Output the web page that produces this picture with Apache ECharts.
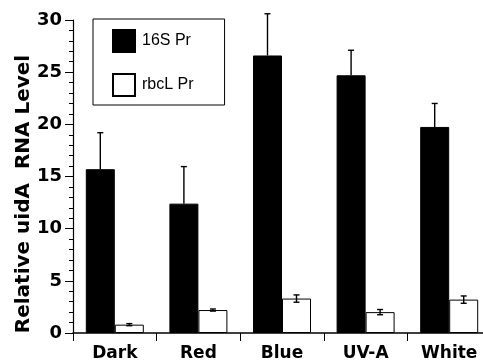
<!DOCTYPE html>
<html>
<head>
<meta charset="utf-8">
<script src="https://cdn.jsdelivr.net/npm/echarts@6/dist/echarts.min.js"></script>
<style>html,body{margin:0;padding:0;background:#fff;}#c{width:483px;height:361px;}</style>
</head>
<body>
<div id="c"></div>
<script>
var categories = ['Dark', 'Red', 'Blue', 'UV-A', 'White'];
var s16Values = [15.7, 12.4, 26.6, 24.7, 19.75];
var s16Err = [3.5, 3.55, 4.0, 2.4, 2.25];
var rbcLValues = [0.8, 2.2, 3.3, 2.0, 3.2];
var rbcLErr = [0.1, 0.1, 0.35, 0.25, 0.35];
var yTicks = [0, 5, 10, 15, 20, 25, 30];

var BW = 29;
var chart = echarts.init(document.getElementById('c'));

function errSeries(name, vals, errs, side, both) {
  return {
    type: 'custom',
    name: name + '_err',
    z: 5,
    silent: true,
    data: vals.map(function (v, i) { return [i, v, errs[i]]; }),
    renderItem: function (params, api) {
      var i = api.value(0), v = api.value(1), e = api.value(2);
      var top = api.coord([i, v + e]);
      var bot = api.coord([i, both ? v - e : v]);
      var x = top[0] + side * BW / 2;
      var hw = 3;
      var children = [
        { type: 'line', shape: { x1: x, y1: top[1], x2: x, y2: bot[1] }, style: { stroke: '#000', lineWidth: 1.4 } },
        { type: 'line', shape: { x1: x - hw, y1: top[1], x2: x + hw, y2: top[1] }, style: { stroke: '#000', lineWidth: 1.4 } }
      ];
      if (both) {
        children.push({ type: 'line', shape: { x1: x - hw, y1: bot[1], x2: x + hw, y2: bot[1] }, style: { stroke: '#000', lineWidth: 1.4 } });
      }
      return { type: 'group', children: children };
    }
  };
}

chart.setOption({
  animation: false,
  grid: { left: 73, right: -8, top: 20, bottom: 28, containLabel: false, outerBoundsMode: 'none' },
  legend: {
    orient: 'vertical',
    left: 93, top: 19,
    data: ['16S Pr', 'rbcL Pr'],
    icon: 'rect',
    itemWidth: 22, itemHeight: 22, itemGap: 20,
    padding: [10, 31, 8, 19],
    borderColor: '#000', borderWidth: 1,
    textStyle: { fontFamily: 'Liberation Sans', fontSize: 16, color: '#000', padding: [0, 0, 0, 2] }
  },
  xAxis: {
    type: 'category',
    data: categories,
    axisLine: { lineStyle: { color: '#000', width: 1.5 } },
    axisTick: { show: true, length: 8, lineStyle: { color: '#000', width: 1 } },
    axisLabel: { fontFamily: 'DejaVu Sans', fontWeight: 'bold', fontSize: 17, color: '#000', margin: 12 }
  },
  yAxis: {
    type: 'value',
    min: 0, max: 30, interval: 5,
    splitLine: { show: false },
    axisLine: { show: true, lineStyle: { color: '#000', width: 1.2 } },
    axisTick: { show: true, length: 8, lineStyle: { color: '#000', width: 1 } },
    minorTick: { show: true, splitNumber: 5, length: 4, lineStyle: { color: '#000', width: 1 } },
    axisLabel: {
      fontFamily: 'DejaVu Sans', fontWeight: 'bold', fontSize: 18, color: '#000', margin: 11,
      formatter: function (v) { return yTicks.indexOf(v) >= 0 ? String(v) : ''; }
    }
  },
  graphic: [{
    type: 'text',
    x: 24, y: 194,
    rotation: Math.PI / 2,
    style: {
      text: 'Relative uidA  RNA Level',
      fontFamily: 'DejaVu Sans', fontWeight: 'bold', fontSize: 20,
      fill: '#000', textAlign: 'center', textVerticalAlign: 'middle'
    }
  }],
  series: [
    {
      name: '16S Pr', type: 'bar', data: s16Values, barWidth: BW, barGap: '0%',
      itemStyle: { color: '#000', borderColor: '#000', borderWidth: 1 }
    },
    {
      name: 'rbcL Pr', type: 'bar', data: rbcLValues, barWidth: BW, barGap: '0%',
      itemStyle: { color: '#fff', borderColor: '#000', borderWidth: 1 }
    },
    errSeries('16S Pr', s16Values, s16Err, -1, false),
    errSeries('rbcL Pr', rbcLValues, rbcLErr, 1, true)
  ]
});
</script>
</body>
</html>
